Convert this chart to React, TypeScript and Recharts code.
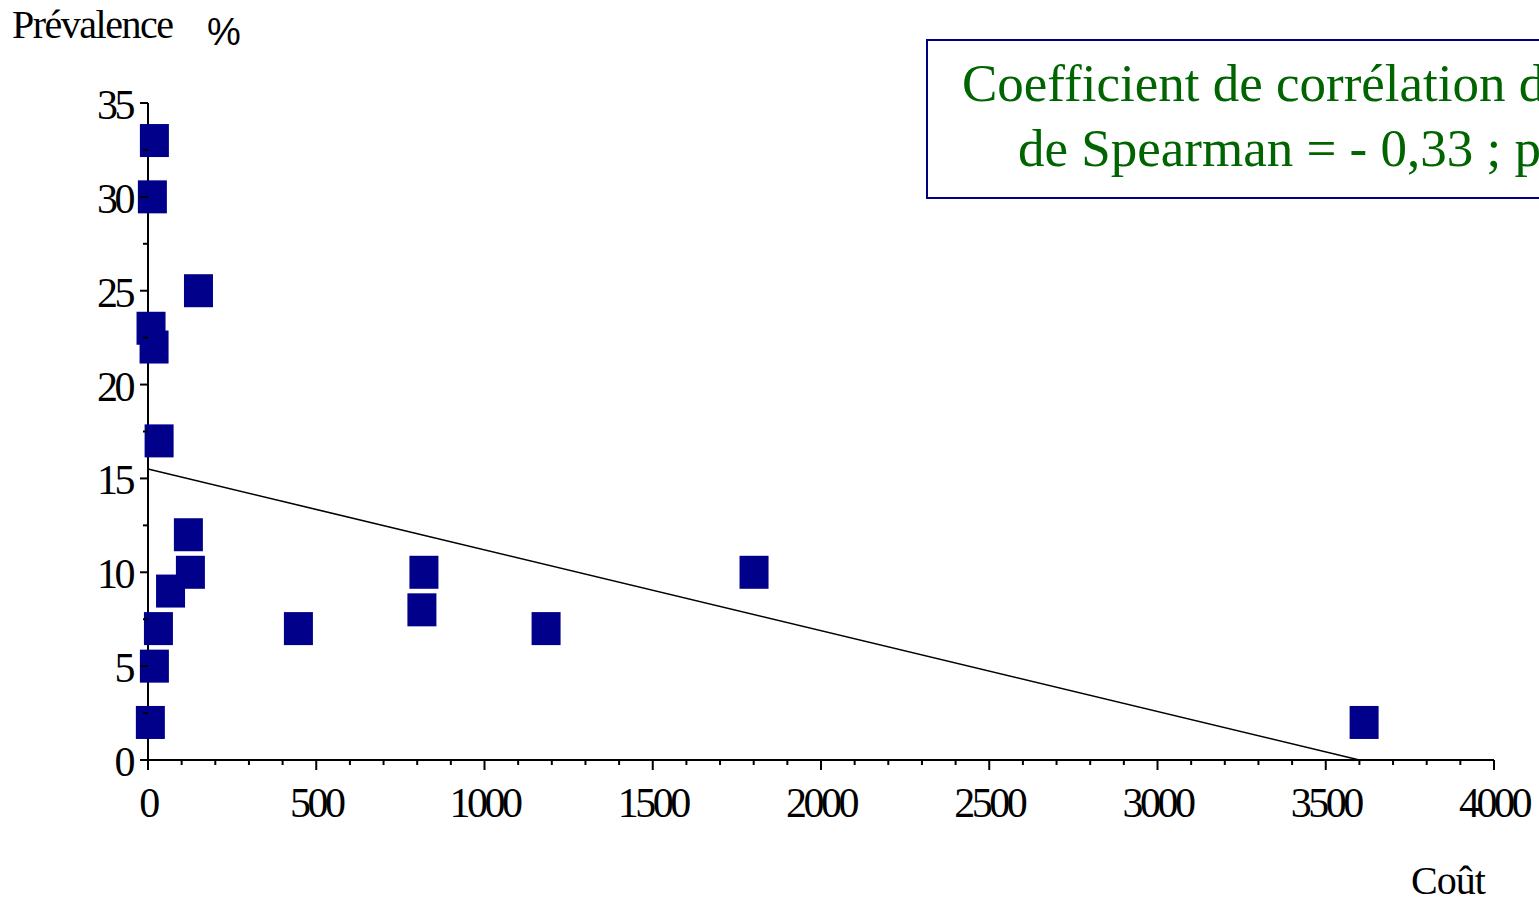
import React from "react";
import { ScatterChart, Scatter, XAxis, YAxis, ReferenceLine } from "recharts";

// Coût (x) and Prévalence % (y)
const costs = [19, 13, 150, 9, 18, 33, 120, 126, 67, 31, 19, 7, 447, 820, 814, 1183, 1801, 3614];
const prevalences = [33, 30, 25, 23, 22, 17, 12, 10, 9, 7, 5, 2, 7, 10, 8, 7, 10, 2];
const trendStart = { x: 0, y: 15.5 };
const trendEnd = { x: 3600, y: 0 };

const xMajorTicks = [0, 500, 1000, 1500, 2000, 2500, 3000, 3500, 4000];
const yMajorTicks = [0, 5, 10, 15, 20, 25, 30, 35];
const xTicks = Array.from({ length: 41 }, (_, i) => i * 100);
const yTicks = Array.from({ length: 15 }, (_, i) => i * 2.5);

const points = costs.map((c, i) => ({ cout: c, prev: prevalences[i] }));

const SERIF = "'Liberation Serif', 'Times New Roman', serif";

const XTick = (props: any) => {
  const { x, y, payload } = props;
  const major = xMajorTicks.includes(payload.value);
  return (
    <g>
      <line x1={x} x2={x} y1={y} y2={y + (major ? 10 : 5)} stroke="#000" strokeWidth={2} />
      {major && (
        <text x={x} y={y + 57} textAnchor="middle" fontFamily={SERIF} fontSize={42} letterSpacing={-3.5} fill="#000">
          {payload.value}
        </text>
      )}
    </g>
  );
};

const YTick = (props: any) => {
  const { x, y, payload } = props;
  const major = yMajorTicks.includes(payload.value);
  return (
    <g>
      <line x1={x} x2={x - (major ? 8 : 5)} y1={y} y2={y} stroke="#000" strokeWidth={2} />
      {major && (
        <text x={x - 16} y={y + 16} textAnchor="end" fontFamily={SERIF} fontSize={42} letterSpacing={-3.5} fill="#000">
          {payload.value}
        </text>
      )}
    </g>
  );
};

const Square = (props: any) => {
  const { cx, cy } = props;
  return <rect x={cx - 14.5} y={cy - 16.5} width={29} height={33} fill="#00008B" />;
};

export default function App() {
  return (
    <div style={{ position: "absolute", left: 0, top: 0, width: 1539, height: 898, overflow: "hidden", background: "#fff" }}>
      <ScatterChart width={1539} height={898} margin={{ top: 103, right: 45, left: 0, bottom: 0 }}>
        <XAxis
          type="number"
          dataKey="cout"
          domain={[0, 4000]}
          ticks={xTicks}
          interval={0}
          height={138}
          tickSize={0}
          tickMargin={0}
          tickLine={false}
          axisLine={{ stroke: "#000", strokeWidth: 2 }}
          tick={<XTick />}
        />
        <YAxis
          type="number"
          dataKey="prev"
          domain={[0, 35]}
          ticks={yTicks}
          interval={0}
          width={148}
          tickSize={0}
          tickMargin={0}
          tickLine={false}
          axisLine={{ stroke: "#000", strokeWidth: 2 }}
          tick={<YTick />}
        />
        <ReferenceLine segment={[trendStart, trendEnd]} stroke="#000" strokeWidth={1.6} />
        <Scatter data={points} shape={<Square />} isAnimationActive={false} />
      </ScatterChart>
      <div style={{ position: "absolute", left: 12, top: 2, fontFamily: SERIF, fontSize: 40, letterSpacing: -1.5, color: "#000", lineHeight: "46px" }}>
        Prévalence
      </div>
      <div style={{ position: "absolute", left: 207, top: 10, fontFamily: "'Liberation Sans', Arial, sans-serif", fontSize: 38, color: "#000", lineHeight: "44px" }}>
        %
      </div>
      <div style={{ position: "absolute", left: 1411, top: 866, fontFamily: SERIF, fontSize: 40, letterSpacing: -1, color: "#000", lineHeight: "30px" }}>
        Coût
      </div>
      <div
        style={{
          position: "absolute",
          left: 926,
          top: 39,
          width: 760,
          height: 160,
          border: "2px solid #000080",
          boxSizing: "border-box",
          fontFamily: SERIF,
          fontSize: 53,
          color: "#006400",
          lineHeight: "64px",
          whiteSpace: "nowrap",
        }}
      >
        <div style={{ position: "absolute", left: 34, top: 10 }}>Coefficient de corrélation des rangs</div>
        <div style={{ position: "absolute", left: 90, top: 75 }}>de Spearman = - 0,33 ; p</div>
      </div>
    </div>
  );
}
